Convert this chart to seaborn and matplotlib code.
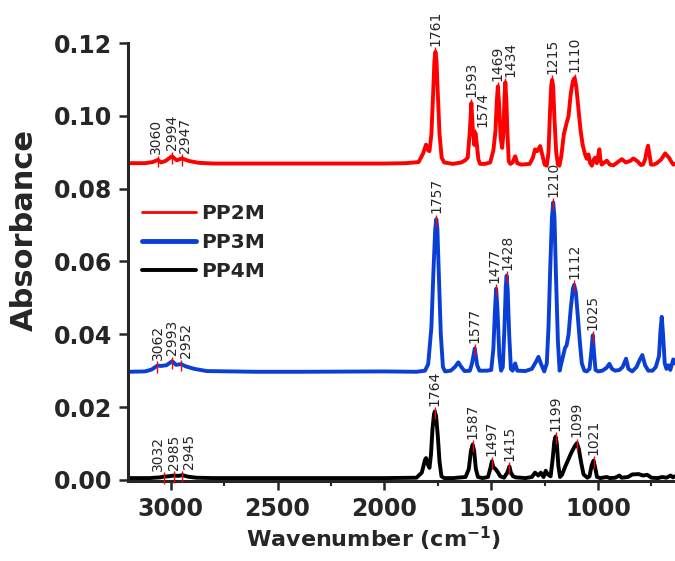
import matplotlib
matplotlib.use("Agg")
import matplotlib.pyplot as plt
from matplotlib.ticker import MultipleLocator, FormatStrFormatter
import seaborn as sns

# ---- spectra (wavenumber, absorbance) ----
wn_pp2m = [3200, 3120, 3085, 3060, 3045, 3025, 2994, 2972, 2947, 2915, 2870, 2800, 2400, 2000,
           1900, 1840, 1820, 1805, 1795, 1789, 1780, 1772, 1766, 1761, 1756, 1750, 1742, 1732,
           1720, 1680, 1640, 1622, 1610, 1600, 1593, 1586, 1579, 1574, 1568, 1560, 1552, 1530,
           1505, 1490, 1480, 1474, 1469, 1463, 1456, 1449, 1443, 1438, 1434, 1429, 1424, 1418,
           1410, 1400, 1388, 1378, 1360, 1320, 1305, 1295, 1285, 1271, 1262, 1250, 1240, 1232,
           1225, 1219, 1215, 1210, 1204, 1196, 1188, 1181, 1172, 1160, 1147, 1138, 1128, 1118,
           1110, 1102, 1092, 1082, 1072, 1061, 1053, 1045, 1037, 1029, 1020, 1014, 1006, 998,
           994, 989, 983, 970, 959, 945, 928, 910, 889, 870, 850, 835, 815, 800, 790, 780, 772,
           766, 760, 752, 740, 725, 705, 686, 668, 655, 648, 640]
abs_pp2m = [0.0870, 0.0870, 0.0873, 0.0879, 0.0872, 0.0876, 0.0889, 0.0878, 0.0883, 0.0876, 0.0871,
            0.0869, 0.0869, 0.0869, 0.0870, 0.0873, 0.0895, 0.0921, 0.0905, 0.0903, 0.0950, 0.1060,
            0.1150, 0.1176, 0.1150, 0.1060, 0.0950, 0.0885, 0.0872, 0.0868, 0.0872, 0.0878, 0.0885,
            0.0960, 0.1035, 0.0960, 0.0920, 0.0953, 0.0925, 0.0880, 0.0868, 0.0868, 0.0872, 0.0905,
            0.0960, 0.1040, 0.1081, 0.1030, 0.0940, 0.0912, 0.0950, 0.1050, 0.1092, 0.1040, 0.0950,
            0.0875, 0.0868, 0.0872, 0.0889, 0.0870, 0.0866, 0.0868, 0.0885, 0.0908, 0.0903, 0.0917,
            0.0895, 0.0866, 0.0863, 0.0900, 0.1010, 0.1085, 0.1099, 0.1080, 0.0990, 0.0900, 0.0866,
            0.0863, 0.0890, 0.0950, 0.0981, 0.1000, 0.1060, 0.1095, 0.1104, 0.1080, 0.1020, 0.0960,
            0.0920, 0.0894, 0.0882, 0.0894, 0.0870, 0.0863, 0.0880, 0.0885, 0.0870, 0.0895, 0.0908,
            0.0880, 0.0866, 0.0872, 0.0877, 0.0866, 0.0864, 0.0872, 0.0881, 0.0872, 0.0876, 0.0883,
            0.0875, 0.0865, 0.0866, 0.0880, 0.0905, 0.0918, 0.0895, 0.0866, 0.0866, 0.0870, 0.0880,
            0.0897, 0.0885, 0.0872, 0.0866, 0.0868]

wn_pp3m = [3200, 3120, 3090, 3062, 3045, 3020, 2993, 2975, 2952, 2930, 2890, 2831, 2600, 2400,
           2000, 1850, 1810, 1795, 1780, 1770, 1762, 1757, 1752, 1745, 1736, 1726, 1716, 1690,
           1670, 1654, 1640, 1625, 1600, 1590, 1577, 1566, 1555, 1520, 1500, 1490, 1483, 1477,
           1471, 1462, 1454, 1446, 1438, 1432, 1428, 1423, 1416, 1408, 1400, 1388, 1378, 1340,
           1310, 1290, 1279, 1268, 1252, 1240, 1232, 1224, 1216, 1210, 1204, 1197, 1188, 1180,
           1168, 1155, 1147, 1138, 1128, 1118, 1112, 1104, 1095, 1084, 1076, 1064, 1053, 1040,
           1032, 1025, 1019, 1012, 1000, 980, 960, 947, 935, 920, 900, 885, 869, 858, 840, 820,
           805, 793, 780, 765, 745, 730, 715, 708, 702, 696, 688, 680, 671, 662, 648, 640]
abs_pp3m = [0.0297, 0.0298, 0.0303, 0.0314, 0.0313, 0.0315, 0.0326, 0.0316, 0.0318, 0.0312, 0.0305,
            0.0299, 0.0297, 0.0297, 0.0298, 0.0297, 0.0300, 0.0318, 0.0420, 0.0580, 0.0690, 0.0716,
            0.0690, 0.0560, 0.0400, 0.0310, 0.0298, 0.0300, 0.0310, 0.0323, 0.0310, 0.0299, 0.0300,
            0.0320, 0.0361, 0.0315, 0.0300, 0.0300, 0.0302, 0.0360, 0.0460, 0.0525, 0.0470, 0.0340,
            0.0300, 0.0310, 0.0420, 0.0530, 0.0561, 0.0520, 0.0400, 0.0305, 0.0300, 0.0320, 0.0300,
            0.0299, 0.0305, 0.0325, 0.0338, 0.0320, 0.0298, 0.0320, 0.0420, 0.0580, 0.0720, 0.0762,
            0.0720, 0.0560, 0.0380, 0.0300, 0.0330, 0.0362, 0.0370, 0.0400, 0.0470, 0.0525, 0.0536,
            0.0515, 0.0450, 0.0370, 0.0320, 0.0300, 0.0298, 0.0305, 0.0350, 0.0397, 0.0350, 0.0302,
            0.0298, 0.0300, 0.0308, 0.0319, 0.0305, 0.0300, 0.0302, 0.0310, 0.0333, 0.0305, 0.0298,
            0.0310, 0.0330, 0.0343, 0.0315, 0.0300, 0.0300, 0.0310, 0.0340, 0.0410, 0.0448, 0.0400,
            0.0320, 0.0305, 0.0315, 0.0302, 0.0331, 0.0320]

wn_pp4m = [3200, 3100, 3050, 3032, 3010, 2985, 2965, 2945, 2920, 2880, 2800, 2400, 2000, 1850,
           1825, 1810, 1805, 1795, 1789, 1782, 1775, 1768, 1764, 1758, 1750, 1742, 1733, 1720,
           1680, 1640, 1620, 1605, 1595, 1587, 1580, 1572, 1562, 1540, 1515, 1505, 1497, 1490,
           1480, 1470, 1458, 1440, 1425, 1415, 1408, 1398, 1385, 1340, 1310, 1295, 1280, 1268,
           1255, 1245, 1235, 1222, 1212, 1205, 1199, 1193, 1186, 1178, 1168, 1155, 1140, 1125,
           1110, 1099, 1090, 1080, 1068, 1050, 1040, 1030, 1021, 1014, 1005, 990, 960, 945, 920,
           900, 890, 860, 840, 810, 790, 770, 750, 720, 700, 680, 660, 650, 640]
abs_pp4m = [0.0005, 0.0005, 0.0007, 0.0009, 0.0010, 0.0012, 0.0011, 0.0013, 0.0009, 0.0006, 0.0005,
            0.0005, 0.0005, 0.0006, 0.0020, 0.0055, 0.0060, 0.0040, 0.0033, 0.0070, 0.0140, 0.0180,
            0.0188, 0.0175, 0.0120, 0.0050, 0.0010, 0.0005, 0.0005, 0.0007, 0.0008, 0.0030, 0.0080,
            0.0097, 0.0080, 0.0030, 0.0008, 0.0005, 0.0008, 0.0030, 0.0051, 0.0035, 0.0030, 0.0022,
            0.0010, 0.0006, 0.0020, 0.0037, 0.0020, 0.0010, 0.0007, 0.0005, 0.0008, 0.0020, 0.0012,
            0.0020, 0.0008, 0.0025, 0.0015, 0.0010, 0.0060, 0.0105, 0.0119, 0.0100, 0.0040, 0.0008,
            0.0015, 0.0035, 0.0055, 0.0075, 0.0092, 0.0101, 0.0085, 0.0050, 0.0015, 0.0006, 0.0010,
            0.0040, 0.0053, 0.0035, 0.0008, 0.0005, 0.0008, 0.0005, 0.0006, 0.0012, 0.0006, 0.0008,
            0.0015, 0.0016, 0.0012, 0.0014, 0.0006, 0.0005, 0.0008, 0.0006, 0.0012, 0.0007, 0.0010]

# ---- labelled peaks ----
peaks_pp2m = [3060, 2994, 2947, 1761, 1593, 1574, 1469, 1434, 1215, 1110]
top_pp2m = [0.0879, 0.0889, 0.0883, 0.1176, 0.1035, 0.0953, 0.1081, 0.1092, 0.1099, 0.1104]
peaks_pp3m = [3062, 2993, 2952, 1757, 1577, 1477, 1428, 1210, 1112, 1025]
top_pp3m = [0.0314, 0.0326, 0.0318, 0.0716, 0.0361, 0.0525, 0.0561, 0.0762, 0.0536, 0.0397]
peaks_pp4m = [3032, 2985, 2945, 1764, 1587, 1497, 1415, 1199, 1099, 1021]
top_pp4m = [0.0009, 0.0012, 0.0013, 0.0188, 0.0097, 0.0051, 0.0037, 0.0119, 0.0101, 0.0053]

sns.set_style("ticks")
plt.rcParams['font.family'] = ['DejaVu Sans']

fig = plt.figure(figsize=(6.75, 5.61), dpi=100)
ax = fig.add_axes([0.1896, 0.1426, 0.8104, 0.7807])

series = [
    ("PP2M", wn_pp2m, abs_pp2m, peaks_pp2m, top_pp2m, "#ff0000"),
    ("PP3M", wn_pp3m, abs_pp3m, peaks_pp3m, top_pp3m, "#0a3fd6"),
    ("PP4M", wn_pp4m, abs_pp4m, peaks_pp4m, top_pp4m, "#000000"),
]
# label shifts (cm-1) so close peak labels sit side by side as in the original
nudge = {("PP2M", 3060): 9, ("PP2M", 2947): -12,
         ("PP2M", 1574): -34, ("PP2M", 1469): 4, ("PP2M", 1434): -22,
         ("PP3M", 2952): -24, ("PP3M", 1477): 9, ("PP3M", 1428): -5,
         ("PP4M", 3032): 27, ("PP4M", 2945): -31}

for name, wn, ab, pk, top, col in series:
    sns.lineplot(x=wn, y=ab, ax=ax, color=col, lw=2.8, label=name,
                 sort=False, estimator=None)
    ax.vlines(pk, [t - 0.002 for t in top], [t + 0.0012 for t in top],
              color="red", lw=1, zorder=3, clip_on=False)
    for p, t in zip(pk, top):
        ax.text(p + nudge.get((name, p), 0), t + 0.0016, str(p),
                rotation=90, ha="center", va="bottom", fontsize=10, clip_on=False)

ax.set_xlim(3200, 640)
ax.set_ylim(-0.0003, 0.12)
ax.xaxis.set_major_locator(MultipleLocator(500))
ax.xaxis.set_minor_locator(MultipleLocator(250))
ax.yaxis.set_major_locator(MultipleLocator(0.02))
ax.yaxis.set_major_formatter(FormatStrFormatter("%.2f"))

sns.despine(ax=ax)
for s in ["left", "bottom"]:
    ax.spines[s].set_linewidth(2.2)
ax.tick_params(which="major", length=6.5, width=1.8, pad=5, labelsize=17)
ax.tick_params(which="minor", length=3.6, width=1.5)
for lab in ax.get_xticklabels() + ax.get_yticklabels():
    lab.set_fontweight("bold")

ax.set_xlabel("Wavenumber (cm$^{\\mathbf{-1}}$)", fontsize=16, fontweight="bold")
ax.set_ylabel("Absorbance", fontsize=22, fontweight="bold")
ax.xaxis.set_label_coords(0.449, -0.1)
ax.yaxis.set_label_coords(-0.163, 0.573)

leg = ax.legend(loc="upper left", bbox_to_anchor=(0.010, 0.651), frameon=False,
                prop={"weight": "bold", "size": 14.5}, handlelength=2.7,
                handletextpad=0.25, labelspacing=0.5, borderaxespad=0)
for line, w in zip(leg.get_lines(), [2.0, 3.5, 2.8]):
    line.set_linewidth(w)

fig.savefig("out.png", dpi=100)
